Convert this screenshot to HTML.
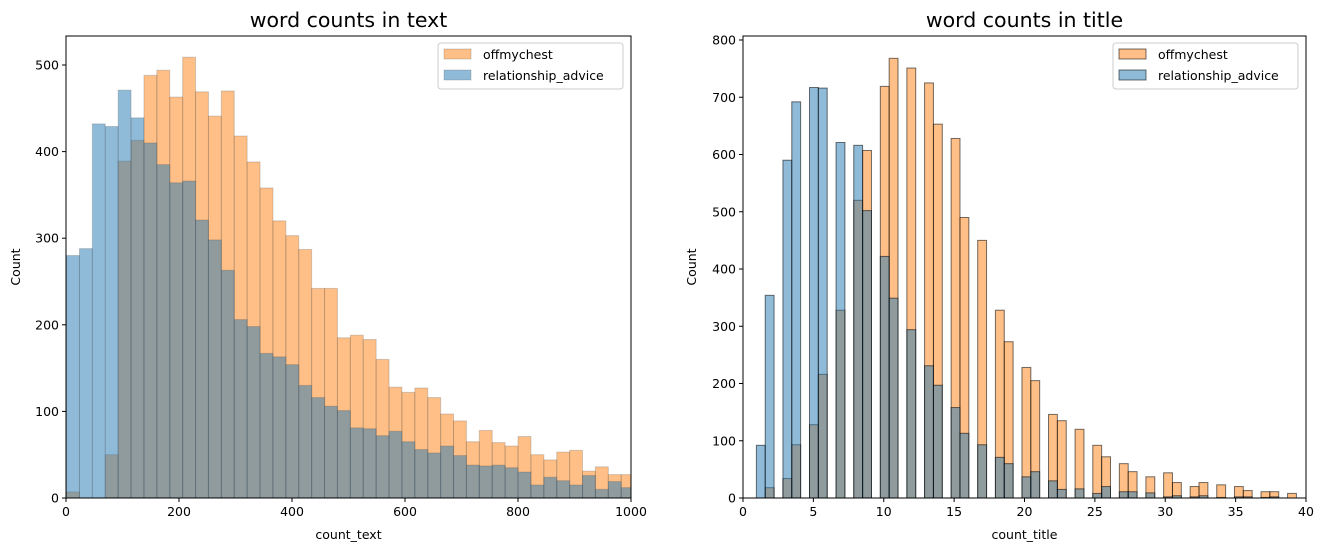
<!DOCTYPE html>
<html><head><meta charset="utf-8">
<style>
body{margin:0;background:#fff;font-family:"Liberation Sans","DejaVu Sans",sans-serif;}
svg text{font-family:"DejaVu Sans","Liberation Sans",sans-serif;}
</style></head>
<body>
<svg id="chart" width="1324" height="551" viewBox="0 0 1324 551" xmlns="http://www.w3.org/2000/svg"></svg>
<script>
// ---- Left chart data: word counts in text (bins of ~22.83 words starting at 1)
const textBinStart = 1;
const textBinWidth = 22.83;
const textOffmychest = [7,0,0,50,389,413,488,494,463,509,469,441,470,418,388,358,320,303,287,242,242,185,188,183,160,128,122,127,116,97,89,65,78,64,60,71,50,44,53,55,31,36,27,27];
const textRelationship = [280,288,432,429,471,439,410,385,364,366,321,298,263,206,198,167,163,154,130,116,106,101,81,80,72,77,65,56,52,60,49,38,37,38,35,30,15,24,20,15,26,10,19,12];
const textXTicks = [0,200,400,600,800,1000];
const textYTicks = [0,100,200,300,400,500];

// ---- Right chart data: word counts in title (values 1..39)
const titleValues = [1,2,3,4,5,6,7,8,9,10,11,12,13,14,15,16,17,18,19,20,21,22,23,24,25,26,27,28,29,30,31,32,33,34,35,36,37,38,39];
const titleOffmychest = [0,18,34,93,128,216,328,520,607,719,768,751,725,653,628,490,450,328,273,228,205,146,135,120,92,72,60,46,37,44,27,20,27,23,20,13,11,11,8];
const titleRelationship = [92,354,590,692,717,716,621,616,502,422,349,294,231,197,158,113,93,71,60,37,46,30,15,16,8,20,11,11,9,2,4,2,4,1,2,2,1,2,0];
const titleBinStart = 1;
const titleBinWidth = 0.629;
const titleXTicks = [0,5,10,15,20,25,30,35,40];
const titleYTicks = [0,100,200,300,400,500,600,700,800];

const NS = "http://www.w3.org/2000/svg";
const svg = document.getElementById('chart');
function mk(tag, attrs, parent){const e=document.createElementNS(NS,tag);for(const k in attrs)e.setAttribute(k,attrs[k]);(parent||svg).appendChild(e);return e;}

function panel(cfg){
  const g = mk('g',{});
  
  
  const L=cfg.x0,R=cfg.x1,T=36,B=498;
  const sx = v => L + (v - cfg.xmin)/(cfg.xmax-cfg.xmin)*(R-L);
  const sy = v => B - v/cfg.ymax*(B-T);
  const clip = mk('clipPath',{id:'clip-'+cfg.name},g);
  mk('rect',{x:L,y:T,width:R-L,height:B-T},clip);
  const bars = mk('g',{'clip-path':'url(#clip-'+cfg.name+')'},g);
  const series = [
    {vals:cfg.orange, fill:'#ff7f0e', nm:'offmychest'},
    {vals:cfg.blue, fill:'#1f77b4', nm:'relationship-advice'}
  ];
  series.forEach(s=>{
    s.vals.forEach((v,i)=>{
      if(v<=0) return;
      const k = cfg.binIndex(i);
      const x0 = sx(cfg.binStart - cfg.shift + k*cfg.binWidth), x1 = sx(cfg.binStart - cfg.shift + (k+1)*cfg.binWidth);
      const r = mk('rect',{x:x0,y:sy(v),width:x1-x0,height:sy(0)-sy(v),fill:s.fill,'fill-opacity':0.5,stroke:cfg.edge,'stroke-opacity':cfg.edgeOp,'stroke-width':1},bars);
      
      
    });
  });
  const fr = mk('rect',{x:L,y:T,width:R-L,height:B-T,fill:'none',stroke:'#000','stroke-width':1},g);
  
  
  cfg.xticks.forEach(t=>{
    const x=sx(t);
    mk('line',{x1:x,x2:x,y1:B,y2:B+4,stroke:'#000'},g);
    const tx = mk('text',{x:x,y:B+18,'font-size':12.5,'text-anchor':'middle',fill:'#000'},g);
    tx.textContent=t;
    
    
  });
  cfg.yticks.forEach(t=>{
    const y=sy(t);
    mk('line',{x1:L-4,x2:L,y1:y,y2:y,stroke:'#000'},g);
    const tx = mk('text',{x:L-7,y:y+4.5,'font-size':12.5,'text-anchor':'end',fill:'#000'},g);
    tx.textContent=t;
    
    
  });
  const ti = mk('text',{x:(L+R)/2,y:27,'font-size':20.5,'text-anchor':'middle',fill:'#000'},g);
  ti.textContent = cfg.title;
  
  
  const xl = mk('text',{x:(L+R)/2,y:539,'font-size':12.5,'text-anchor':'middle',fill:'#000'},g);
  xl.textContent = cfg.xlabel;
  
  
  const yl = mk('text',{x:cfg.ylabX,y:(T+B)/2,'font-size':12.5,'text-anchor':'middle',fill:'#000',transform:'rotate(-90 '+cfg.ylabX+' '+((T+B)/2)+')'},g);
  yl.textContent = 'Count';
  
  
  const lg = mk('g',{},g);
  
  
  const lx = R-193, ly=43;
  mk('rect',{x:lx,y:ly,width:185,height:46,rx:3,fill:'#fff','fill-opacity':0.8,stroke:'#ccc'},lg);
  [['offmychest','#ff7f0e'],['relationship_advice','#1f77b4']].forEach((e,i)=>{
    const eg = mk('g',{},lg);
    
    
    mk('rect',{x:lx+6,y:ly+6+i*21,width:27,height:10,fill:e[1],'fill-opacity':0.5,stroke:cfg.edge,'stroke-opacity':cfg.edgeOp},eg);
    const t = mk('text',{x:lx+45,y:ly+16+i*21,'font-size':12.5,fill:'#000'},eg);
    t.textContent = e[0];
  });
}

panel({name:'text-histogram', x0:66, x1:631, xmin:0, xmax:1000, ymax:500*(498-36)/(498-65),
  orange:textOffmychest, blue:textRelationship, binStart:textBinStart, binWidth:textBinWidth, shift:0,
  binIndex:i=>i, xticks:textXTicks, yticks:textYTicks, title:'word counts in text', xlabel:'count_text',
  ylabX:20, edge:'#555', edgeOp:0.25});

panel({name:'title-histogram', x0:743, x1:1306, xmin:0, xmax:40, ymax:800*(498-36)/(498-40),
  orange:titleOffmychest, blue:titleRelationship, binStart:titleBinStart, binWidth:titleBinWidth, shift:0.05,
  binIndex:i=>Math.floor((titleValues[i]-titleBinStart)/titleBinWidth+1e-9), xticks:titleXTicks, yticks:titleYTicks,
  title:'word counts in title', xlabel:'count_title', ylabX:696, edge:'#000', edgeOp:0.55});
</script>
</body></html>
